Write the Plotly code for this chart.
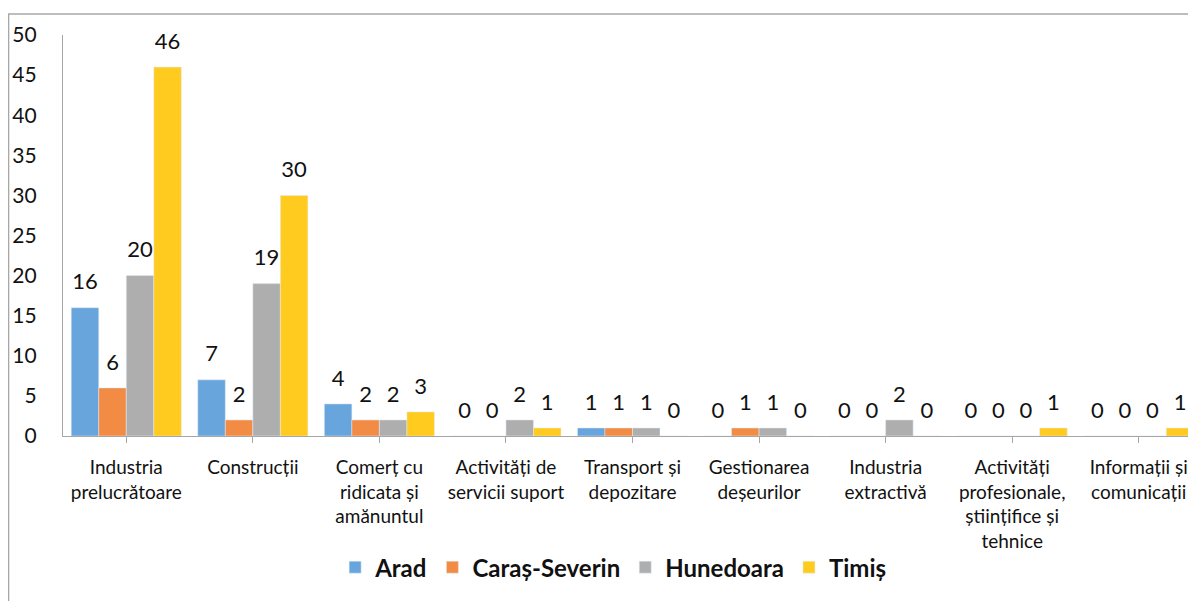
import plotly.graph_objects as go

categories = ["Industria<br>prelucrătoare", "Construcții", "Comerț cu<br>ridicata și<br>amănuntul",
              "Activități de<br>servicii suport", "Transport și<br>depozitare", "Gestionarea<br>deșeurilor",
              "Industria<br>extractivă", "Activități<br>profesionale,<br>științifice și<br>tehnice",
              "Informații și<br>comunicații"]

arad = [16, 7, 4, 0, 1, 0, 0, 0, 0]
caras = [6, 2, 2, 0, 1, 1, 0, 0, 0]
hunedoara = [20, 19, 2, 2, 1, 1, 2, 0, 0]
timis = [46, 30, 3, 1, 0, 0, 0, 1, 1]

series = [("Arad", arad, "#67A5DC"),
          ("Caraș-Severin", caras, "#F28C45"),
          ("Hunedoara", hunedoara, "#AEAEAE"),
          ("Timiș", timis, "#FFCB1F")]

font = "Lato, 'Open Sans', sans-serif"

fig = go.Figure()
for name, vals, col in series:
    fig.add_trace(go.Bar(name=name, x=categories, y=vals, marker_color=col,
                         offsetgroup=name))
# value labels above the bars
for name, vals, col in series:
    fig.add_trace(go.Scatter(x=categories, y=vals, mode="markers+text", text=[str(v) for v in vals],
                             textposition="top center", offsetgroup=name, showlegend=False,
                             marker=dict(size=19, opacity=0), cliponaxis=False,
                             textfont=dict(size=22, color="#111111", family=font),
                             hoverinfo="skip"))

fig.update_layout(
    width=1196, height=601,
    barmode="group", bargap=0.13, bargroupgap=0,
    scattermode="group", scattergap=0.13,
    plot_bgcolor="white", paper_bgcolor="white",
    margin=dict(l=55, r=2, t=27, b=173),
    font=dict(family=font, color="#111111"),
    showlegend=True,
    legend=dict(orientation="h", x=0.483, xanchor="center", y=-0.328, yanchor="middle",
                font=dict(size=24, family=font, weight="bold"), traceorder="normal"),
    shapes=[dict(type="rect", xref="paper", yref="paper", x0=-0.0478, x1=1.02,
                 y0=-0.45, y1=1.0524, line=dict(color="#A8A8A8", width=1.5), layer="below")],
)
fig.update_xaxes(range=[-0.5, 8.5], showline=True, linecolor="#A6A6A6", linewidth=1.2,
                 ticks="outside", ticklen=6, tickcolor="#A6A6A6", tickangle=0, automargin=False,
                 tickfont=dict(size=19, color="#111111"), ticklabelstandoff=8, showgrid=False)
fig.update_yaxes(range=[0, 50], dtick=5, showline=True, linecolor="#A6A6A6", linewidth=1.2,
                 showgrid=False, zeroline=False, ticks="", ticklabelstandoff=21, automargin=False,
                 tickfont=dict(size=21, color="#111111"))

fig.write_html("out.html")
